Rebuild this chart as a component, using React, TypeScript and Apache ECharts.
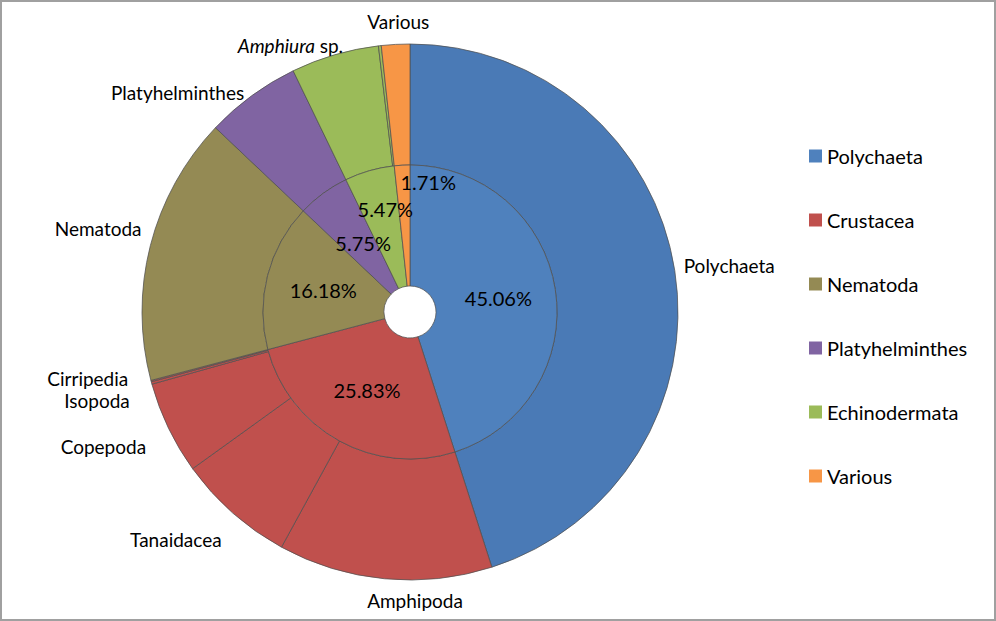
import React, { useEffect, useRef } from "react";
import * as echarts from "echarts";

// Inner ring: main groups (percent of total)
const groupNames = ["Polychaeta", "Crustacea", "Nematoda", "Platyhelminthes", "Echinodermata", "Various"];
const groupValues = [45.06, 25.83, 16.18, 5.75, 5.47, 1.71];
const groupColors = ["#4F81BD", "#C0504D", "#948A54", "#8064A2", "#9BBB59", "#F79646"];

// Outer ring: taxa within each group
const taxonNames = [
  "Polychaeta",
  "Amphipoda",
  "Tanaidacea",
  "Copepoda",
  "Isopoda",
  "Cirripedia",
  "Nematoda",
  "Platyhelminthes",
  "Amphiura sp.",
  "Other Echinodermata",
  "Various",
];
const taxonValues = [45.06, 12.9, 7.1, 5.6, 0.15, 0.08, 16.18, 5.75, 5.3, 0.17, 1.71];
const taxonGroup = [0, 1, 1, 1, 1, 1, 2, 3, 4, 4, 5];
const hiddenTaxonLabels = ["Other Echinodermata"];

const FONT = "Lato, 'Open Sans', 'DejaVu Sans', sans-serif";

export default function App() {
  const ref = useRef<HTMLDivElement>(null);

  useEffect(() => {
    if (!ref.current) return;
    const chart = echarts.init(ref.current, null, { renderer: "svg" });

    // small label nudges (Excel-style manual label placement)
    const innerNudge: Record<string, number[]> = {
      Various: [23, -41],
      Echinodermata: [0, -17],
      Platyhelminthes: [6, 3],
    };
    const outerNudge: Record<string, number[]> = {
      Polychaeta: [-1, -4],
      Amphipoda: [31, 4],
      Tanaidacea: [-3, 22],
      Copepoda: [-13, 16],
      Isopoda: [-12, 16],
      Cirripedia: [-13, -4],
      Nematoda: [1, -16],
      Platyhelminthes: [0, 2],
      "Amphiura sp.": [14, -4],
      Various: [3, -5],
    };

    const innerData = groupNames.map((n, i) => ({
      name: n,
      value: groupValues[i],
      itemStyle: { color: groupColors[i] },
      label: innerNudge[n] ? { offset: innerNudge[n] } : undefined,
    }));

    const outerColors = ["#4A7AB6", "#C0504D", "#948A54", "#8064A2", "#9BBB59", "#F79646"];
    const outerData = taxonNames.map((n, i) => ({
      name: n,
      value: taxonValues[i],
      itemStyle: { color: outerColors[taxonGroup[i]] },
      label: hiddenTaxonLabels.includes(n) ? { show: false } : undefined,
    }));

    chart.setOption({
      animation: false,
      backgroundColor: "#ffffff",
      legend: {
        orient: "vertical",
        left: 802,
        top: 139,
        itemWidth: 13,
        itemHeight: 13,
        itemGap: 44,
        icon: "rect",
        data: groupNames,
        textStyle: { fontFamily: FONT, fontSize: 20, color: "#000", lineHeight: 20 },
        itemStyle: { borderWidth: 0 },
      },
      series: [
        {
          type: "pie",
          name: "Groups",
          center: [408, 310],
          radius: [26, 147],
          startAngle: 90,
          clockwise: true,
          silent: true,
          itemStyle: { borderColor: "rgba(80,80,80,0.75)", borderWidth: 1 },
          label: {
            show: true,
            position: "inside",
            fontFamily: FONT,
            fontSize: 20,
            color: "#000",
            formatter: (p: any) => p.value.toFixed(2) + "%",
          },
          data: innerData,
          z: 3,
        },
        {
          type: "pie",
          name: "Taxa",
          center: [408, 310],
          radius: [147, 268],
          startAngle: 90,
          clockwise: true,
          silent: true,
          avoidLabelOverlap: false,
          itemStyle: { borderColor: "rgba(80,80,80,0.75)", borderWidth: 1 },
          label: {
            show: true,
            position: "outside",
            fontFamily: FONT,
            fontSize: 19,
            lineHeight: 18,
            color: "#000",
            distanceToLabelLine: 4,
            formatter: (p: any) => (p.name === "Amphiura sp." ? "{i|Amphiura} sp." : p.name),
            rich: {
              i: { fontFamily: FONT, fontSize: 19, lineHeight: 18, fontStyle: "italic", color: "#000" },
            },
          },
          labelLine: { show: true, length: 6, length2: 0, lineStyle: { opacity: 0 } },
          labelLayout: (params: any) => {
            const pts = params.labelLinePoints;
            const name = taxonNames[params.dataIndex];
            const nudge = outerNudge[name] || [0, 0];
            if (!pts || pts.length < 2) return { dx: nudge[0], dy: nudge[1] };
            const dx = pts[1][0] - pts[0][0];
            const dy = pts[1][1] - pts[0][1];
            const len = Math.hypot(dx, dy) || 1;
            if (Math.abs(dx / len) < 0.2) {
              return {
                x: pts[1][0] + nudge[0],
                y: pts[1][1] + (dy > 0 ? 1 : -1) * (params.labelRect.height / 2 + 2) + nudge[1],
                align: "center",
                verticalAlign: "middle",
              };
            }
            return { dx: nudge[0], dy: nudge[1] };
          },
          data: outerData,
          z: 2,
        },
      ],
    });

    return () => chart.dispose();
  }, []);

  return (
    <div
      style={{
        position: "fixed",
        left: 0,
        top: 0,
        width: 996,
        height: 621,
        boxSizing: "border-box",
        border: "2px solid #a0a0a0",
        background: "#fff",
      }}
    >
      <div ref={ref} style={{ width: 992, height: 617 }} />
    </div>
  );
}
